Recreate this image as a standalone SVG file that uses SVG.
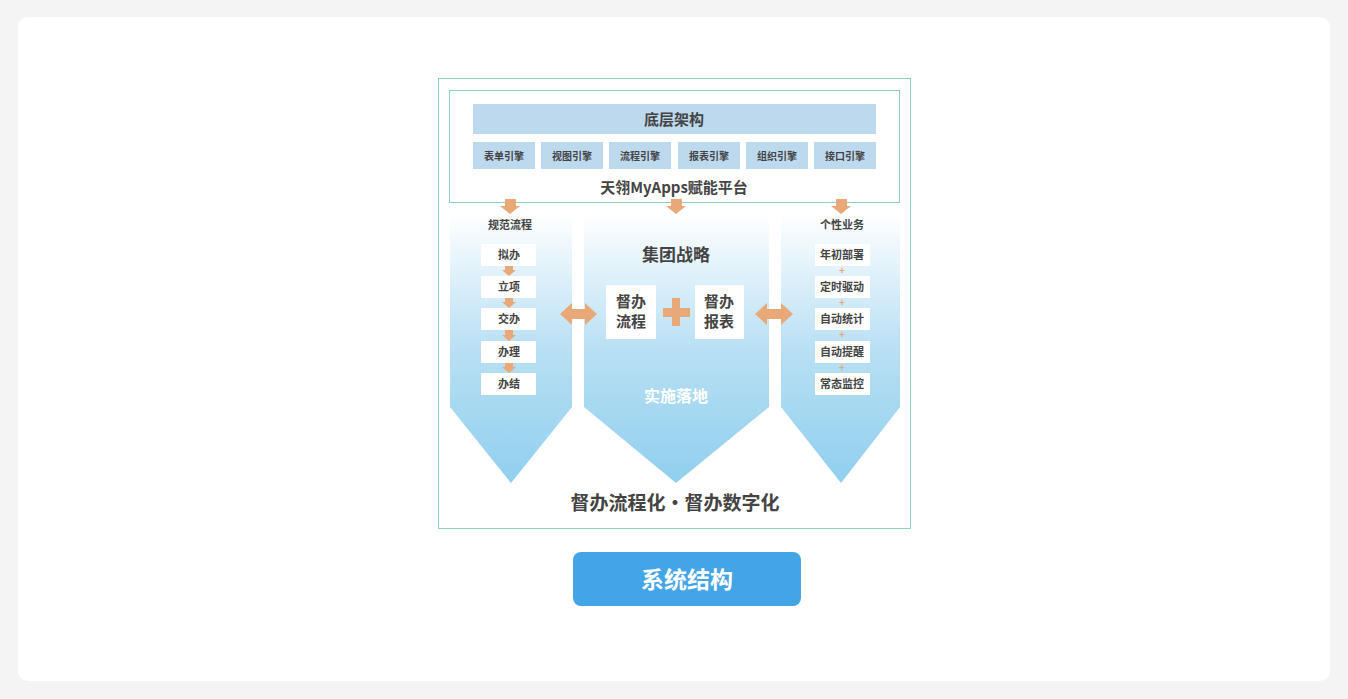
<svg xmlns="http://www.w3.org/2000/svg" width="1348" height="699" viewBox="0 0 1348 699">
<defs>
<linearGradient id="g" x1="0" y1="0" x2="0" y2="1"><stop offset="0" stop-color="#ffffff"/><stop offset="0.5" stop-color="#b9e0f4"/><stop offset="1" stop-color="#90cfee"/></linearGradient>
<style>
text{font-family:"Noto Sans CJK SC","Noto Sans",sans-serif;font-weight:bold;text-anchor:middle;fill:#444}
.eng{fill:#bdd9ee}
.eng+text{font-size:10px}
.wb{fill:#fff}
.s11{font-size:11px}
.or{fill:#e8a877}
</style>
</defs>
<rect width="1348" height="699" fill="#f4f4f4"/>
<rect x="18" y="17" width="1312" height="664" rx="10" fill="#fff"/>
<rect x="438.5" y="78.5" width="472" height="450" fill="none" stroke="#8fd0c0"/>
<g id="platform">
<rect x="449.5" y="90.5" width="450" height="112" fill="none" stroke="#8fd0c0"/>
<rect x="473" y="104" width="403" height="30" fill="#bdd9ee"/>
<text x="674" y="125" font-size="15">底层架构</text>
<rect class="eng" x="473" y="142" width="62" height="27"/><text x="504" y="160">表单引擎</text>
<rect class="eng" x="541" y="142" width="62" height="27"/><text x="572" y="160">视图引擎</text>
<rect class="eng" x="609" y="142" width="62" height="27"/><text x="640" y="160">流程引擎</text>
<rect class="eng" x="678" y="142" width="62" height="27"/><text x="709" y="160">报表引擎</text>
<rect class="eng" x="746" y="142" width="62" height="27"/><text x="777" y="160">组织引擎</text>
<rect class="eng" x="814" y="142" width="62" height="27"/><text x="845" y="160">接口引擎</text>
<text x="674" y="193" font-size="15">天翎MyApps赋能平台</text>
</g>
<g id="left">
<polygon points="450,213 572,213 572,407 511,483 450,407" fill="url(#g)"/>
<text x="510" y="229" class="s11">规范流程</text>
<g class="s11">
<rect class="wb" x="481" y="244" width="55" height="22"/><text x="509" y="259" class="s11">拟办</text>
<rect class="wb" x="481" y="276" width="55" height="22"/><text x="509" y="291" class="s11">立项</text>
<rect class="wb" x="481" y="308" width="55" height="22"/><text x="509" y="323" class="s11">交办</text>
<rect class="wb" x="481" y="341" width="55" height="22"/><text x="509" y="356" class="s11">办理</text>
<rect class="wb" x="481" y="373" width="55" height="22"/><text x="509" y="388" class="s11">办结</text>
</g>
<g class="or">
<polygon points="505,266 513,266 513,270 516,270 509,276 502,270 505,270"/>
<polygon points="505,298 513,298 513,302 516,302 509,308 502,302 505,302"/>
<polygon points="505,330 513,330 513,335 516,335 509,341 502,335 505,335"/>
<polygon points="505,363 513,363 513,367 516,367 509,373 502,367 505,367"/>
</g>
</g>
<g id="center">
<polygon points="584,213 769,213 769,407 676,483 584,407" fill="url(#g)"/>
<text x="676" y="261" font-size="17">集团战略</text>
<rect class="wb" x="606" y="285" width="50" height="54"/>
<text x="631" y="307" font-size="15">督办</text><text x="631" y="327" font-size="15">流程</text>
<rect class="wb" x="695" y="285" width="49" height="54"/>
<text x="719" y="307" font-size="15">督办</text><text x="719" y="327" font-size="15">报表</text>
<polygon class="or" points="672,298 680,298 680,308 690,308 690,317 680,317 680,326 672,326 672,317 663,317 663,308 672,308"/>
<text x="676" y="402" font-size="16" style="fill:#fff">实施落地</text>
</g>
<g id="right">
<polygon points="781,213 900,213 900,407 841,483 781,407" fill="url(#g)"/>
<text x="842" y="229" class="s11">个性业务</text>
<rect class="wb" x="815" y="244" width="55" height="22"/><text x="842" y="259" class="s11">年初部署</text>
<rect class="wb" x="815" y="276" width="55" height="22"/><text x="842" y="291" class="s11">定时驱动</text>
<rect class="wb" x="815" y="308" width="55" height="22"/><text x="842" y="323" class="s11">自动统计</text>
<rect class="wb" x="815" y="341" width="55" height="22"/><text x="842" y="356" class="s11">自动提醒</text>
<rect class="wb" x="815" y="373" width="55" height="22"/><text x="842" y="388" class="s11">常态监控</text>
<g style="fill:#e8a877;font-size:10px"><text x="842" y="274" style="fill:#e8a877">+</text><text x="842" y="306" style="fill:#e8a877">+</text><text x="842" y="338" style="fill:#e8a877">+</text><text x="842" y="371" style="fill:#e8a877">+</text></g>
</g>
<g id="connectors" class="or">
<polygon points="505,199 516,199 516,206 520,206 510,214 500,206 505,206"/>
<polygon points="671,199 682,199 682,206 686,206 676,214 666,206 671,206"/>
<polygon points="836,199 847,199 847,206 851,206 841,214 831,206 836,206"/>
<polygon points="560,314 572,303 572,309 585,309 585,303 597,314 585,325 585,319 572,319 572,325"/>
<polygon points="755,314 767,303 767,309 781,309 781,303 793,314 781,325 781,319 767,319 767,325"/>
</g>
<text x="675" y="510" font-size="19">督办流程化·督办数字化</text>
<g id="title">
<rect x="573" y="552" width="228" height="54" rx="8" fill="#44a5e6"/>
<text x="687" y="588" font-size="23" style="fill:#fff">系统结构</text>
</g>
</svg>
